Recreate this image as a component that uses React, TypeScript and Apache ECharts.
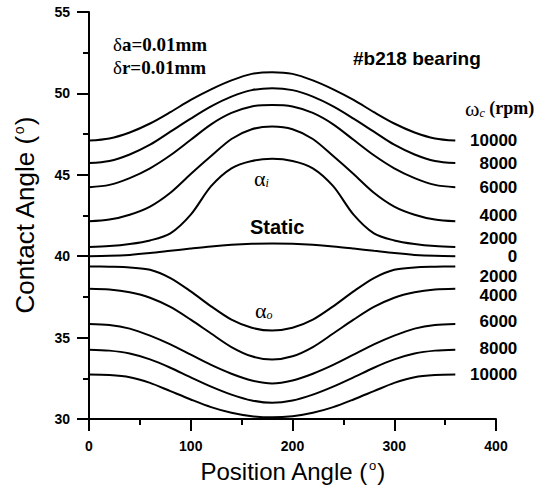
import React, { useEffect, useRef } from "react";
import * as echarts from "echarts";

// Position angle (deg)
const positions = [0, 20, 40, 60, 80, 100, 120, 140, 160, 180, 200, 220, 240, 260, 280, 300, 320, 340, 360];

// Inner-race contact angle alpha_i (deg)
const inner10000 = [47.1, 47.23, 47.6, 48.15, 48.85, 49.6, 50.25, 50.8, 51.2, 51.3, 51.2, 50.8, 50.25, 49.6, 48.85, 48.15, 47.6, 47.23, 47.1];
const inner8000 = [45.72, 45.85, 46.25, 46.85, 47.65, 48.45, 49.2, 49.8, 50.2, 50.32, 50.2, 49.8, 49.2, 48.45, 47.65, 46.85, 46.25, 45.85, 45.72];
const inner6000 = [44.24, 44.38, 44.8, 45.4, 46.2, 47.15, 48.1, 48.8, 49.2, 49.29, 49.2, 48.8, 48.1, 47.15, 46.2, 45.4, 44.8, 44.38, 44.24];
const inner4000 = [42.14, 42.25, 42.55, 43.05, 43.9, 45.05, 46.15, 47.2, 47.8, 47.96, 47.8, 47.2, 46.15, 45.05, 43.9, 43.05, 42.55, 42.25, 42.14];
const inner2000 = [40.56, 40.62, 40.75, 40.97, 41.4, 42.55, 44.3, 45.4, 45.85, 45.98, 45.85, 45.4, 44.3, 42.55, 41.4, 40.97, 40.75, 40.62, 40.56];
// Static (0 rpm)
const static0 = [40.0, 40.02, 40.08, 40.19, 40.33, 40.47, 40.6, 40.7, 40.76, 40.78, 40.76, 40.7, 40.6, 40.47, 40.33, 40.19, 40.08, 40.02, 40.0];
// Outer-race contact angle alpha_o (deg)
const outer2000 = [39.37, 39.35, 39.31, 39.17, 38.66, 37.84, 36.92, 36.1, 35.6, 35.43, 35.6, 36.1, 36.92, 37.84, 38.66, 39.17, 39.31, 39.35, 39.37];
const outer4000 = [38.0, 37.95, 37.78, 37.45, 36.88, 36.1, 35.25, 34.42, 33.85, 33.65, 33.85, 34.42, 35.25, 36.1, 36.88, 37.45, 37.78, 37.95, 38.0];
const outer6000 = [35.84, 35.78, 35.55, 35.12, 34.58, 33.95, 33.32, 32.78, 32.36, 32.18, 32.36, 32.78, 33.32, 33.95, 34.58, 35.12, 35.55, 35.78, 35.84];
const outer8000 = [34.26, 34.2, 34.02, 33.66, 33.15, 32.56, 31.99, 31.5, 31.14, 31.0, 31.14, 31.5, 31.99, 32.56, 33.15, 33.66, 34.02, 34.2, 34.26];
const outer10000 = [32.73, 32.7, 32.57, 32.22, 31.71, 31.2, 30.73, 30.38, 30.17, 30.1, 30.17, 30.38, 30.73, 31.2, 31.71, 32.22, 32.57, 32.7, 32.73];

const curves = [inner10000, inner8000, inner6000, inner4000, inner2000, static0, outer2000, outer4000, outer6000, outer8000, outer10000];
const speedLabels = ["10000", "8000", "6000", "4000", "2000", "0", "2000", "4000", "6000", "8000", "10000"];

// Layout nudges for the right-hand speed labels (px)
const labelNudgeY = [0, 0, 0, -6, -9, 0, 10, 7, -2, -1, 0];

const xTicks = { min: 0, max: 400, interval: 100 };
const yTicks = { min: 30, max: 55, interval: 5 };

const SANS = "Liberation Sans";
const SERIF = "Liberation Serif";

export default function App() {
  const ref = useRef<HTMLDivElement>(null);

  useEffect(() => {
    if (!ref.current) return;
    const chart = echarts.init(ref.current, null, { renderer: "svg" });

    const axisCommon = {
      axisLine: { show: true, lineStyle: { color: "#000", width: 2 } },
      axisTick: { show: true, inside: false, length: 12, lineStyle: { color: "#000", width: 2 } },
      minorTick: { show: true, splitNumber: 2, length: 6, lineStyle: { color: "#000", width: 2 } },
      splitLine: { show: false },
      minorSplitLine: { show: false },
      axisLabel: { color: "#000", fontFamily: SANS, fontWeight: "bold", fontSize: 14 },
    };

    const nameStyle = (size: number) => ({
      color: "#000",
      fontFamily: SANS,
      fontSize: size,
      rich: {
        s: { fontFamily: SANS, fontSize: Math.round(size * 0.55), color: "#000", verticalAlign: "top", padding: [0, 1, 10, 1] },
      },
    });

    chart.setOption({
      animation: false,
      backgroundColor: "#fff",
      grid: { left: 89, right: 43, top: 12, bottom: 71, containLabel: false },
      xAxis: {
        type: "value",
        ...xTicks,
        ...axisCommon,
        axisLabel: { ...axisCommon.axisLabel, margin: 20 },
        name: "Position Angle ({s|o})",
        nameLocation: "middle",
        nameGap: 40,
        nameTextStyle: nameStyle(24),
      },
      yAxis: {
        type: "value",
        ...yTicks,
        ...axisCommon,
        axisLabel: { ...axisCommon.axisLabel, margin: 19 },
        name: "Contact Angle ({s|o})",
        nameLocation: "middle",
        nameGap: 51,
        nameTextStyle: nameStyle(26),
      },
      series: curves.map((c) => ({
        type: "line",
        data: positions.map((p, i) => [p, c[i]]),
        smooth: 0.3,
        showSymbol: false,
        symbol: "none",
        lineStyle: { color: "#000", width: 2 },
        silent: true,
      })),
    });

    const labelEls = curves.map((c, i) => {
      const last = c.length - 1;
      const pt = chart.convertToPixel({ gridIndex: 0 }, [positions[last], c[last]]) as number[];
      return {
        type: "text",
        x: pt[0] + 62,
        y: pt[1] + labelNudgeY[i],
        style: {
          text: speedLabels[i],
          fill: "#000",
          font: `bold 17px "${SANS}"`,
          align: "right",
          verticalAlign: "middle",
        },
        silent: true,
      };
    });

    const serifRich = {
      d: { fontFamily: SERIF, fontSize: 19, fill: "#000" },
      b: { fontFamily: SERIF, fontSize: 19, fontWeight: "bold", fill: "#000" },
    };
    const alphaRich = {
      a: { fontFamily: SERIF, fontSize: 22, fill: "#000" },
      s: { fontFamily: SERIF, fontSize: 12, fontStyle: "italic", fill: "#000", verticalAlign: "bottom" },
    };

    const staticEls = [
      { type: "text", x: 113, y: 44, style: { text: "{d|δ}{b|a=0.01mm}", verticalAlign: "middle", rich: serifRich } },
      { type: "text", x: 113, y: 67, style: { text: "{d|δ}{b|r=0.01mm}", verticalAlign: "middle", rich: serifRich } },
      {
        type: "text",
        x: 353,
        y: 58,
        style: { text: "#b218 bearing", font: `bold 19px "${SANS}"`, fill: "#000", verticalAlign: "middle" },
      },
      {
        type: "text",
        x: 465,
        y: 108,
        style: {
          text: "{w|ω}{c|c}{r| (rpm)}",
          verticalAlign: "middle",
          rich: {
            w: { fontFamily: SERIF, fontSize: 22, fill: "#000" },
            c: { fontFamily: SERIF, fontSize: 12, fontStyle: "italic", fill: "#000", verticalAlign: "bottom" },
            r: { fontFamily: SERIF, fontSize: 18, fontWeight: "bold", fill: "#000" },
          },
        },
      },
      {
        type: "text",
        x: 250,
        y: 227,
        style: { text: "Static", font: `bold 20px "${SANS}"`, fill: "#000", verticalAlign: "middle" },
      },
      { type: "text", x: 254, y: 178, style: { text: "{a|α}{s|i}", verticalAlign: "middle", rich: alphaRich } },
      { type: "text", x: 255, y: 310, style: { text: "{a|α}{s|o}", verticalAlign: "middle", rich: alphaRich } },
    ];

    chart.setOption({ graphic: { elements: [...staticEls, ...labelEls] } });

    return () => chart.dispose();
  }, []);

  return <div ref={ref} style={{ position: "absolute", left: 0, top: 0, width: 539, height: 490 }} />;
}
